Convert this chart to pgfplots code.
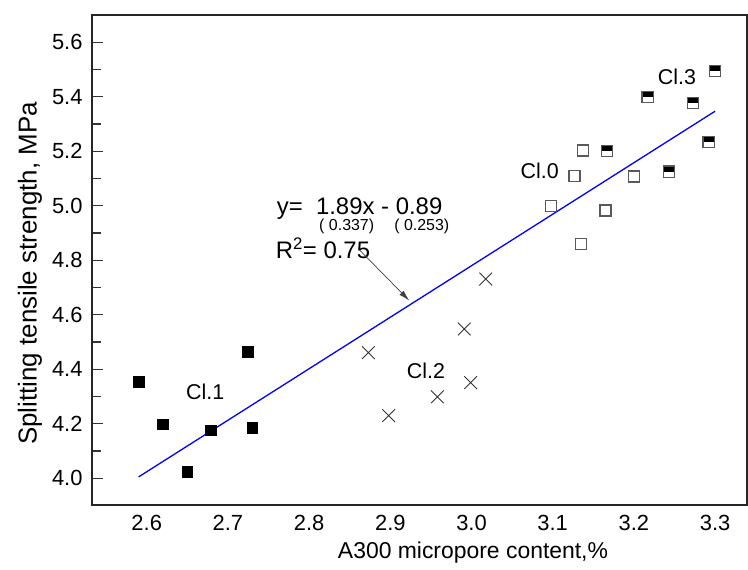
\documentclass[border=0pt]{standalone}
\usepackage{pgfplots}
\pgfplotsset{compat=1.18}
\usepackage{fontspec}
\setmainfont{Liberation Sans}
\usetikzlibrary{arrows.meta}

\pgfdeclareplotmark{halfsq}{%
  \pgfpathrectangle{\pgfqpoint{-\pgfplotmarksize}{0pt}}{\pgfqpoint{2\pgfplotmarksize}{\pgfplotmarksize}}%
  \pgfusepathqfill
  \pgfpathrectangle{\pgfqpoint{-\pgfplotmarksize}{-\pgfplotmarksize}}{\pgfqpoint{2\pgfplotmarksize}{2\pgfplotmarksize}}%
  \pgfusepathqstroke
}
\newcommand{\fs}[1]{\fontsize{#1}{#1}\selectfont}

\begin{document}
\begin{tikzpicture}
\useasboundingbox (-92bp,-65bp) rectangle (656bp,505bp);
\begin{axis}[
  scale only axis, width=655bp, height=490bp,
  xmin=2.5326, xmax=3.3393, ymin=3.902, ymax=5.700,
  xtick={2.6,2.7,2.8,2.9,3.0,3.1,3.2,3.3},
  ytick={4.0,4.2,4.4,4.6,4.8,5.0,5.2,5.4,5.6},
  minor ytick={4.1,4.3,4.5,4.7,4.9,5.1,5.3,5.5},
  xtick style={draw=none},
  xminorticks=false,
  ytick pos=left,
  tick align=inside,
  major tick length=11bp, minor tick length=9bp,
  tick style={line width=1.2bp, black!80},
  axis line style={line width=1.5bp, black!85},
  /pgf/number format/assume math mode=true,
  /pgf/number format/.cd, fixed, fixed zerofill, precision=1, /pgfplots/.cd,
  tick label style={font=\fs{22}},
  xticklabel style={anchor=base, yshift=-25bp},
  yticklabel style={anchor=east, xshift=-6bp},
  xlabel={A300 micropore content,\%},
  ylabel={Splitting tensile strength, MPa},
  xlabel style={font=\fs{23}, at={(axis description cs:0.5817,0)}, anchor=base, yshift=-53bp},
  ylabel style={font=\fs{26}, at={(axis description cs:-0.0947,0.4724)}, anchor=center},
]
% Cl.1
\addplot[only marks, mark=square*, mark size=5.3bp, mark options={fill=black, draw=black}] coordinates {
 (2.590,4.355) (2.620,4.198) (2.650,4.024) (2.679,4.177) (2.724,4.465) (2.730,4.186)
};
% Cl.2
\addplot[only marks, mark=x, mark size=9bp, mark options={draw=black!80, line width=0.9bp}] coordinates {
 (3.0175,4.731) (2.991,4.548) (2.873,4.461) (2.999,4.351) (2.958,4.299) (2.898,4.230)
};
% Cl.0
\addplot[only marks, mark=square, mark size=5.5bp, mark options={draw=black!65, line width=1.3bp}] coordinates {
 (3.137,5.203) (3.127,5.110) (3.098,5.000) (3.200,5.107) (3.165,4.983) (3.135,4.860)
};
% Cl.3
\addplot[only marks, mark=halfsq, mark size=5.6bp, mark options={fill=black, draw=black!65, line width=1.2bp}] coordinates {
 (3.167,5.202) (3.217,5.400) (3.273,5.376) (3.292,5.233) (3.243,5.125) (3.300,5.495)
};
% fit
\addplot[blue, line width=1.3bp] coordinates {(2.590,4.0051) (3.300,5.347)};

\node[font=\fs{21.5}] at (axis cs:2.672,4.317) {Cl.1};
\node[font=\fs{21.5}] at (axis cs:2.944,4.394) {Cl.2};
\node[font=\fs{21.5}] at (axis cs:3.084,5.128) {Cl.0};
\node[font=\fs{21.5}] at (axis cs:3.253,5.473) {Cl.3};
\node[font=\fs{24}, anchor=west, inner sep=0pt] at (axis cs:2.760,4.991) {y=\ \ 1.89x - 0.89};
\node[font=\fs{16}, inner sep=0pt] at (axis cs:2.8463,4.9236) {( 0.337)};
\node[font=\fs{16}, inner sep=0pt] at (axis cs:2.9388,4.9236) {( 0.253)};
\node[font=\fs{24}, anchor=west, inner sep=0pt] at (axis cs:2.7588,4.844) {R\textsuperscript{2}= 0.75};
\draw[line width=0.7bp, black!75, -{Latex[length=11bp,width=6bp]}] (axis cs:2.862,4.838) -- (axis cs:2.9234,4.652);
\end{axis}
\end{tikzpicture}
\end{document}
